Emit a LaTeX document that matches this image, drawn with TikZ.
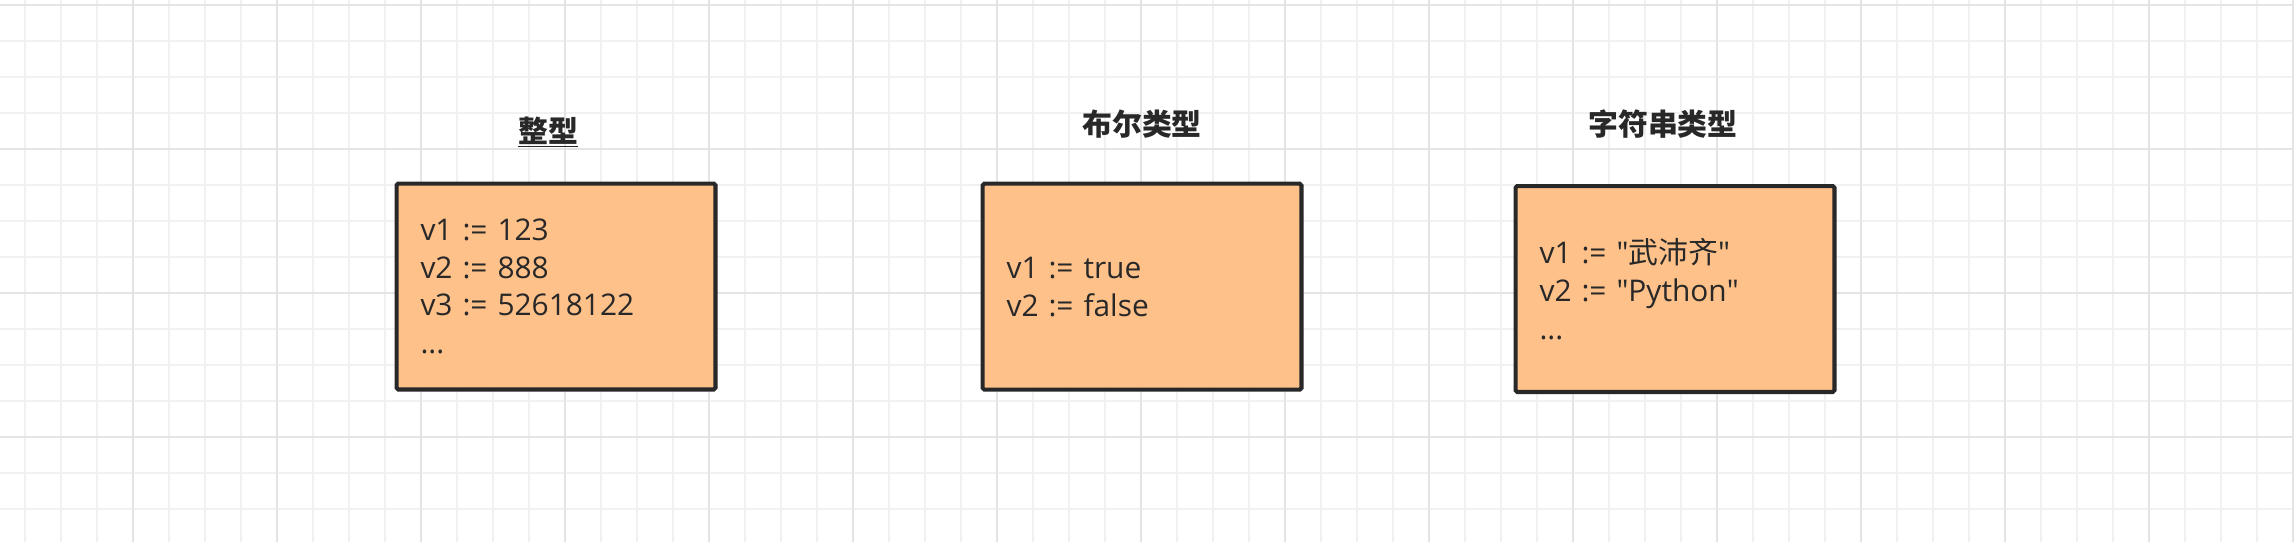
\documentclass[tikz,border=0pt]{standalone}
\usepackage{fontspec}
\setmainfont{Open Sans}
\newfontfamily\cjk{Noto Sans CJK SC}
\usetikzlibrary{positioning}
\definecolor{boxfill}{RGB}{254,193,138}
\definecolor{boxline}{RGB}{40,40,40}
\definecolor{gridminor}{RGB}{241,241,241}
\definecolor{gridmajor}{RGB}{228,228,228}
\begin{document}
\begin{tikzpicture}[x=0.02cm, y=-0.02cm,
    minorline/.style={gridminor, line width=1.1pt},
    majorline/.style={gridmajor, line width=1.1pt},
    typebox/.style={draw=boxline, fill=boxfill, line width=2.3pt, rounded corners=1pt,
        minimum width=6.38cm, minimum height=4.12cm, text width=5.42cm, inner xsep=0.48cm,
        align=left, text=boxline, font=\fontsize{17}{21.5}\selectfont},
    typetitle/.style={text=boxline, inner sep=0pt, anchor=base,
        font=\cjk\bfseries\fontsize{17}{20}\selectfont}]
    \useasboundingbox (0,0) rectangle (2294,542);
    \fill[white] (0,0) rectangle (2294,542);
    % grid
    \foreach \gx in {-11,25,...,2300}
        \draw[minorline] (\gx,0) -- (\gx,542);
    \foreach \gy in {5,41,...,545}
        \draw[minorline] (0,\gy) -- (2294,\gy);
    \foreach \gx in {133,277,...,2300}
        \draw[majorline] (\gx,0) -- (\gx,542);
    \foreach \gy in {5,149,...,545}
        \draw[majorline] (0,\gy) -- (2294,\gy);
    % boxes
    \node[typebox] (intbox) at (556,286.5) {v1 := 123\\v2 := 888\\v3 := 52618122\\...};
    \node[typebox] (boolbox) at (1142,286.7) {v1 := true\\v2 := false};
    \node[typebox] (strbox) at (1675,289)
        {v1 := \textquotedbl{\cjk 武沛齐}\textquotedbl\\v2 := \textquotedbl Python\textquotedbl\\...};
    % titles
    \node[typetitle] (inttitle) at (548,142) {\underline{整型}};
    \node[typetitle] (booltitle) at (1142,135) {布尔类型};
    \node[typetitle] (strtitle) at (1663,135.5) {字符串类型};
\end{tikzpicture}
\end{document}
